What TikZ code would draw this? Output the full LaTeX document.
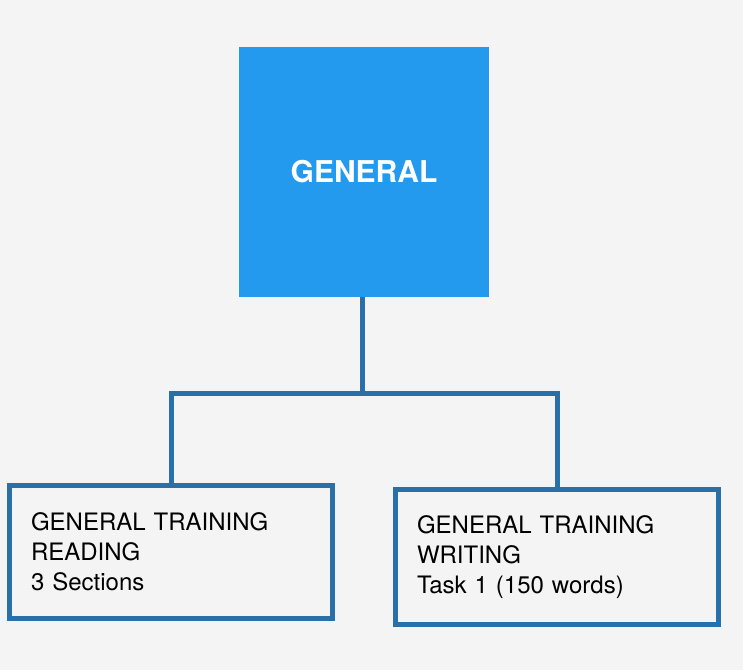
\documentclass[tikz,border=0pt]{standalone}
\usepackage{fontspec}
\setmainfont{TeX Gyre Heros}
\definecolor{bgcol}{HTML}{F4F4F4}
\definecolor{topblue}{HTML}{249AEF}
\definecolor{edgeblue}{HTML}{2A70A8}
\tikzset{
    topbox/.style={rectangle, fill=topblue, minimum width=250pt, minimum height=250pt, text=white, font=\fontsize{30}{36}\selectfont\bfseries},
    leafbox/.style={rectangle, draw=edgeblue, line width=5pt, minimum width=323pt, text width=280pt, align=left, font=\fontsize{24}{30}\selectfont},
    link/.style={draw=edgeblue, line width=5pt}
}
\begin{document}
\begin{tikzpicture}[x=1pt,y=1pt]
        \fill[bgcol] (0,0) rectangle (743,-670);
        \useasboundingbox (0,0) rectangle (743,-670);

        \node[topbox] (general) at (364, -172) {GENERAL};
        \node[leafbox, minimum height=133pt] (reading) at (171, -552) {GENERAL TRAINING\\READING\\3 Sections};
        \node[leafbox, minimum height=135pt] (writing) at (557, -557) {GENERAL TRAINING\\WRITING\\Task 1 (150 words)};

        \coordinate (split) at (362, -393);

        \draw[link] (general.south -| split) -- (split);
        \draw[link] (reading.north) |- (split) -| (writing.north);
    \end{tikzpicture}
\end{document}
